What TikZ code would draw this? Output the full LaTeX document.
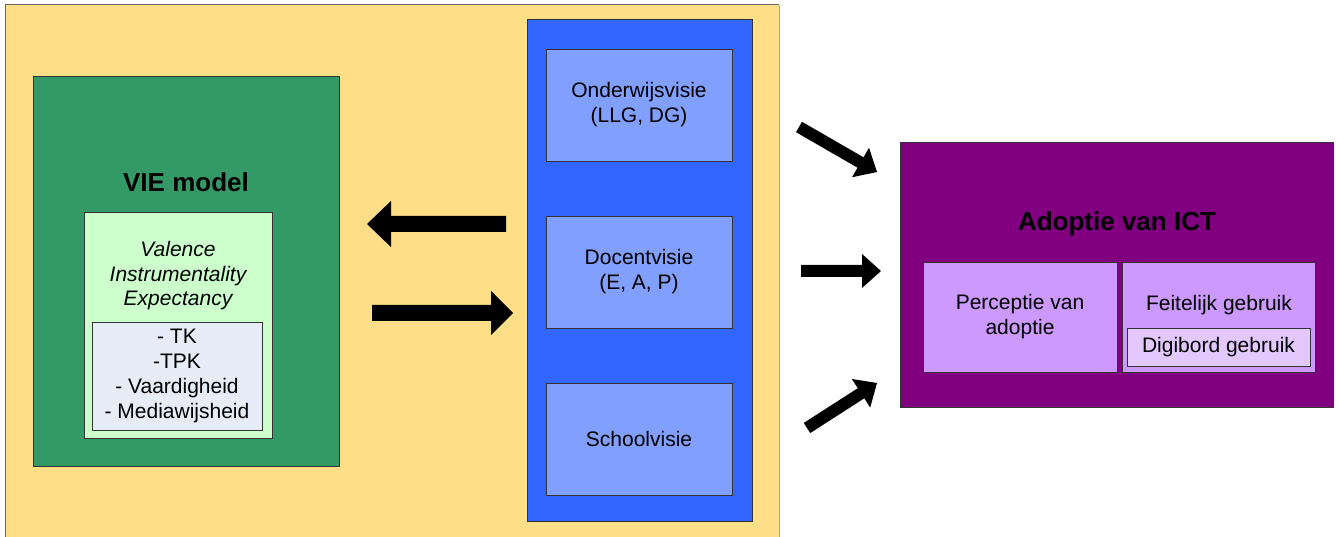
\documentclass[tikz,border=0pt]{standalone}
\usepackage{fontspec}
\setmainfont{Liberation Sans}
\usetikzlibrary{calc}

\definecolor{sand}{HTML}{FFDE88}
\definecolor{vieGreen}{HTML}{339966}
\definecolor{mint}{HTML}{CCFFCC}
\definecolor{mist}{HTML}{E6ECF8}
\definecolor{royal}{HTML}{3366FF}
\definecolor{sky}{HTML}{809FFF}
\definecolor{plum}{HTML}{800080}
\definecolor{lilac}{HTML}{CC99FF}
\definecolor{lavender}{HTML}{E2C8FF}

\begin{document}
\begin{tikzpicture}[x=1pt, y=-1pt,
  box/.style={draw=black!80, line width=0.8pt, inner sep=0pt, align=center,
              font=\fontsize{21}{25}\selectfont},
  txt/.style={inner sep=0pt, align=center, font=\fontsize{21}{25}\selectfont},
  title/.style={inner sep=0pt, font=\fontsize{26}{30}\selectfont\bfseries},
  pics/fatarrow/.style n args={4}{code={
    \fill[black] (0,-#2) -- ({#1-#4},-#2) -- ({#1-#4},-#3) -- (#1,0)
                 -- ({#1-#4},#3) -- ({#1-#4},#2) -- (0,#2) -- cycle;}}
]
\useasboundingbox (0,0) rectangle (1339,537);

% yellow panel (runs off the bottom edge)
\node[fill=sand, inner sep=0pt, minimum width=773pt, minimum height=534pt] (bg) at (392.5,272) {};
\draw[gray!80!black, line width=1.2pt] (bg.south west) |- (bg.north east);
\draw[gray!70, line width=1.4pt] (bg.north east) -- (bg.south east);

% VIE model
\node[box, fill=vieGreen, minimum width=306pt, minimum height=390pt] (vie) at (186,271) {};
\node[title, anchor=base] (vieT) at (186,192) {VIE model};
\node[box, fill=mint, minimum width=188pt, minimum height=226pt] (vals) at (178,325) {};
\node[txt, font=\fontsize{21}{24.5}\selectfont\itshape] (valsT) at (178,276)
  {Valence\\Instrumentality\\Expectancy};
\node[box, fill=mist, minimum width=170pt, minimum height=108pt] (list) at (177,376)
  {- TK\\-TPK\\- Vaardigheid\\- Mediawijsheid};

% visions column
\node[box, fill=royal, minimum width=225pt, minimum height=502pt] (col) at (639.5,270) {};
\node[box, fill=sky, minimum width=186pt, minimum height=112pt] (onder) at (639,105)
  {Onderwijsvisie\\(LLG, DG)};
\node[box, fill=sky, minimum width=186pt, minimum height=112pt] (docent) at (639,272)
  {Docentvisie\\(E, A, P)};
\node[box, fill=sky, minimum width=186pt, minimum height=112pt] (school) at (639,439)
  {Schoolvisie};

% adoption
\node[box, fill=plum, minimum width=433pt, minimum height=265pt] (adopt) at (1116.5,274.5) {};
\node[title, anchor=base] (adoptT) at (1117,231) {Adoptie van ICT};
\node[box, fill=lilac, minimum width=194pt, minimum height=110pt] (perc) at (1020,317)
  {Perceptie van\\adoptie};
\node[box, fill=lilac, minimum width=193pt, minimum height=110pt] (feit) at (1218.5,317) {};
\node[txt, anchor=base] (feitT) at (1219,311) {Feitelijk gebruik};
\node[box, fill=lavender, minimum width=183pt, minimum height=38pt] (digi) at (1218.5,347)
  {Digibord gebruik};

% arrow ends
\coordinate (aT) at (506,224);  \coordinate (aH) at (367,224);
\coordinate (bT) at (372,313);  \coordinate (bH) at (513,313);
\coordinate (cT) at (799,127);  \coordinate (cH) at (877,172);
\coordinate (dT) at (801,271);  \coordinate (dH) at (881,271);
\coordinate (eT) at (807,428);  \coordinate (eH) at (877,383);

\foreach \t/\h/\s/\w/\l in {aT/aH/8/23/24, bT/bH/8/22/22,
                           cT/cH/6/17/19, dT/dH/6/17/19, eT/eH/6/17/19}{
  \path let \p1=(\t), \p2=(\h),
            \n1={atan2((\y2)-(\y1),(\x2)-(\x1))},
            \n2={veclen((\x2)-(\x1),(\y2)-(\y1))} in
        pic[rotate=\n1] at (\t) {fatarrow={\n2}{\s}{\w}{\l}};
}
\end{tikzpicture}
\end{document}
